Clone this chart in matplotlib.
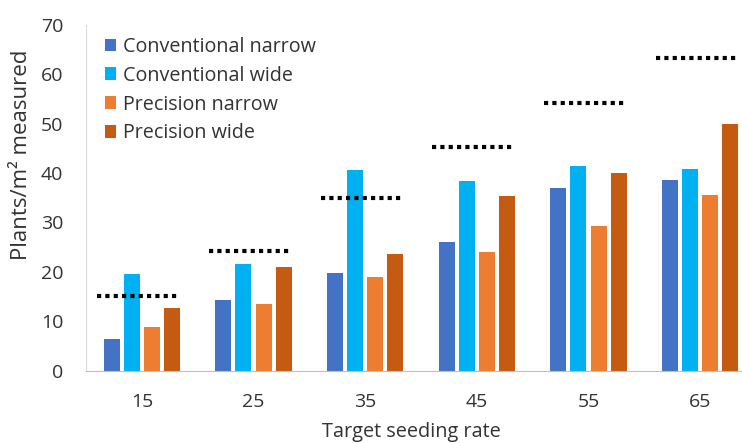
import matplotlib
matplotlib.use('Agg')
import matplotlib.pyplot as plt
import numpy as np

# seeding rate groups and measured plant counts (plants/m2)
rates = ['15', '25', '35', '45', '55', '65']
series = ['Conventional narrow', 'Conventional wide', 'Precision narrow', 'Precision wide']
conv_narrow = [6.4, 14.2, 19.8, 26.1, 36.9, 38.6]
conv_wide = [19.6, 21.6, 40.7, 38.3, 41.5, 40.9]
prec_narrow = [8.9, 13.5, 18.9, 24.1, 29.2, 35.6]
prec_wide = [12.7, 20.9, 23.7, 35.4, 40.1, 50.0]
# dotted markers: seeded density per group
seeded = [15.0, 24.3, 34.9, 45.3, 54.1, 63.4]

colores = ['#4472C4', '#00B0F0', '#ED7D31', '#C55A11']
texto = '#333333'

plt.rcParams['font.family'] = ['Open Sans', 'DejaVu Sans']

fig = plt.figure(figsize=(7.42, 4.43), dpi=100)
ax = fig.add_axes([86 / 742, 72.5 / 443, 670 / 742, 345.5 / 443])

x = np.arange(len(rates))
ancho = 0.143
paso = 0.18
datos = [conv_narrow, conv_wide, prec_narrow, prec_wide]
for i, (vals, nombre) in enumerate(zip(datos, series)):
    ax.bar(x + (i - 1.5) * paso, vals, ancho, color=colores[i], label=nombre)

# target lines drawn as square dots
for xi, s in zip(x, seeded):
    ax.plot([xi - 0.40, xi + 0.32], [s, s], color='black', lw=3,
            linestyle=(0, (1, 1)), dash_capstyle='butt')

ax.set_xlim(-0.5, 5.5)
ax.set_ylim(0, 70)
ax.set_yticks(range(0, 71, 10))
ax.set_xticks(x)
ax.set_xticklabels(rates)
ax.tick_params(axis='both', length=0, labelsize=14, colors=texto)
ax.tick_params(axis='x', pad=16)
ax.tick_params(axis='y', pad=16.5)

for lado in ['top', 'right']:
    ax.spines[lado].set_visible(False)
ax.spines['left'].set_color('#D9D9D9')
ax.spines['bottom'].set_color('#BFBFBF')

ax.set_ylabel('Plants/m² measured', fontsize=16, color=texto)
ax.yaxis.set_label_coords(-0.08, 0.625)
ax.set_xlabel('Target seeding rate', fontsize=14.3, color=texto)
ax.xaxis.set_label_coords(0.485, -0.15)

ax.legend(loc='upper left', bbox_to_anchor=(0.01, 1.0), frameon=False,
          fontsize=14.2, handlelength=0.6, handleheight=0.6, handletextpad=0.35,
          labelspacing=0.45, labelcolor=texto, borderaxespad=0.2)

fig.savefig('out.png', dpi=100)
